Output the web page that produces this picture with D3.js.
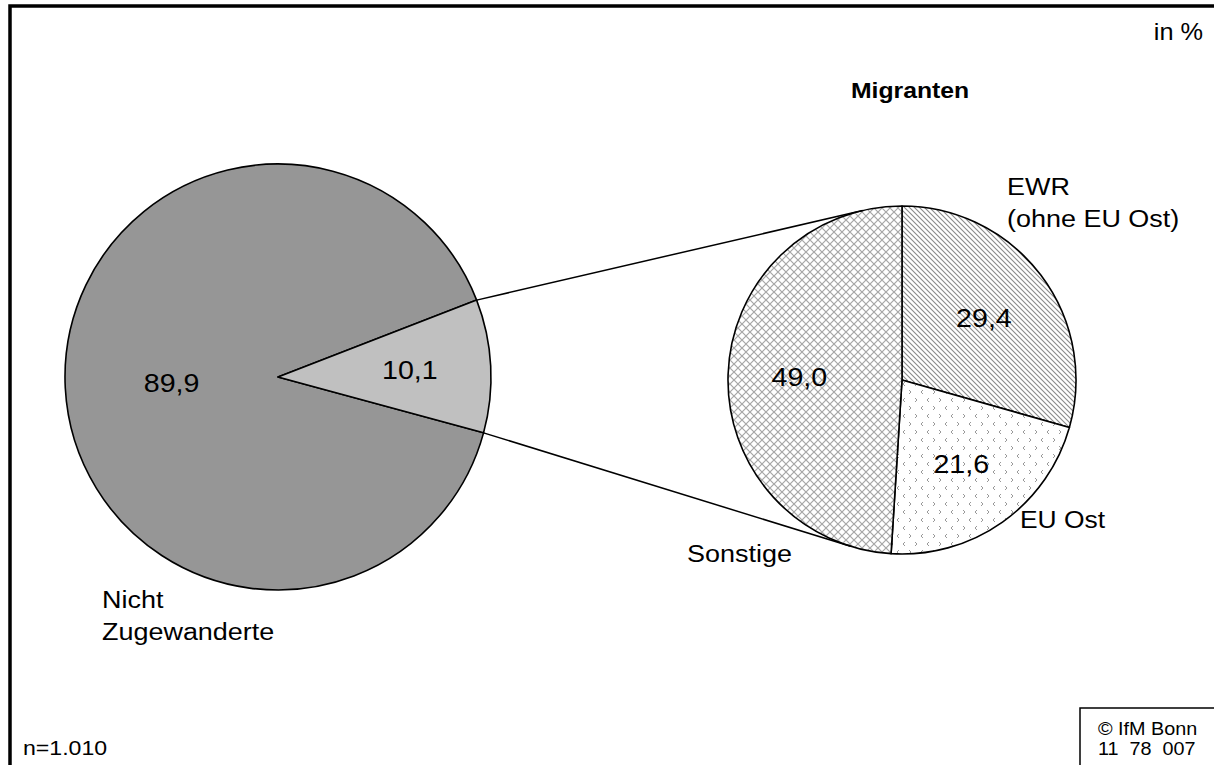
<!DOCTYPE html>
<html>
<head>
<meta charset="utf-8">
<script src="https://cdn.jsdelivr.net/npm/d3@7"></script>
<style>
	html, body { margin: 0; padding: 0; background: #fff; }
	svg text { font-family: "Liberation Sans", Arial, sans-serif; fill: #000; }
</style>
</head>
<body>
<div class="chart"></div>
<script>
// main pie
const mainLabels = ["Nicht Zugewanderte", "Migranten"];
const mainValues = [89.9, 10.1];
const mainColors = ["#969696", "#c0c0c0"];

// detail pie (Migranten)
const subLabels = ["EWR (ohne EU Ost)", "EU Ost", "Sonstige"];
const subValues = [29.4, 21.6, 49.0];

const fmt = (v) => v.toFixed(1).replace(".", ",");

var w = 1214,
	h = 765,
	svg;

var left = { x: 278, y: 377, r: 213 },
	right = { x: 902, y: 380, r: 174 };

var sx = 1.1; // the reference text is slightly wider than Arial

svg = d3.select(".chart").append("svg").attr("width", w).attr("height", h);

var defs = svg.append("defs");

// diagonal lines
defs
	.append("pattern")
	.attr("id", "pat-ewr")
	.attr("patternUnits", "userSpaceOnUse")
	.attr("width", 5)
	.attr("height", 5)
	.call((p) => p.append("rect").attr("width", 5).attr("height", 5).attr("fill", "#fff"))
	.append("path")
	.attr("d", "M-1,-1L6,6M-1,4L1,6M4,-1L6,1")
	.attr("stroke", "#8a8a8a")
	.attr("stroke-width", 1.1);

// little chevrons
var pOst = defs
	.append("pattern")
	.attr("id", "pat-ost")
	.attr("patternUnits", "userSpaceOnUse")
	.attr("width", 24)
	.attr("height", 16);
pOst.append("rect").attr("width", 24).attr("height", 16).attr("fill", "#fff");
pOst
	.append("path")
	.attr("d", "M3,2L1,4L3,6 M13,2L15,4L13,6 M7,10L9,12L7,14 M21,10L19,12L21,14")
	.attr("fill", "none")
	.attr("stroke", "#999")
	.attr("stroke-width", 1);

// cross hatch
defs
	.append("pattern")
	.attr("id", "pat-sonst")
	.attr("patternUnits", "userSpaceOnUse")
	.attr("width", 8)
	.attr("height", 8)
	.call((p) => p.append("rect").attr("width", 8).attr("height", 8).attr("fill", "#fff"))
	.append("path")
	.attr("d", "M-1,-1L9,9M9,-1L-1,9")
	.attr("stroke", "#a6a6a6")
	.attr("stroke-width", 1.2);

const subFills = ["url(#pat-ewr)", "url(#pat-ost)", "url(#pat-sonst)"];

// frame
svg
	.append("rect")
	.attr("x", 10)
	.attr("y", 6)
	.attr("width", 1260)
	.attr("height", 820)
	.attr("fill", "none")
	.attr("stroke", "#000")
	.attr("stroke-width", 3.5);

const deg = Math.PI / 180;

const mainPie = d3
	.pie()
	.sort(null)
	.startAngle(105.2 * deg)
	.endAngle(465.2 * deg);
const subPie = d3.pie().sort(null);

const mainArcs = mainPie(mainValues);
const subArcs = subPie(subValues);

const mainArc = d3.arc().innerRadius(0).outerRadius(left.r);
const subArc = d3.arc().innerRadius(0).outerRadius(right.r);

var gl = svg.append("g").attr("transform", "translate(" + left.x + "," + left.y + ")");
gl
	.selectAll("path")
	.data(mainArcs)
	.enter()
	.append("path")
	.attr("d", mainArc)
	.attr("fill", (d, i) => mainColors[i])
	.attr("stroke", "#000")
	.attr("stroke-width", 1.6)
	.attr("stroke-linejoin", "round");

var gr = svg.append("g").attr("transform", "translate(" + right.x + "," + right.y + ")");
gr
	.selectAll("path")
	.data(subArcs)
	.enter()
	.append("path")
	.attr("d", subArc)
	.attr("fill", (d, i) => subFills[i])
	.attr("stroke", "#000")
	.attr("stroke-width", 1.6)
	.attr("stroke-linejoin", "round");

// connector lines: from the edges of the small slice, tangent to the detail pie
function point(a, c) {
	return [c.x + c.r * Math.sin(a), c.y - c.r * Math.cos(a)];
}
function tangent(p, c, side) {
	var dx = c.x - p[0],
		dy = c.y - p[1],
		d = Math.sqrt(dx * dx + dy * dy),
		base = Math.atan2(dy, dx),
		alpha = Math.asin(c.r / d),
		len = Math.sqrt(d * d - c.r * c.r),
		a = base + side * alpha;
	return [p[0] + len * Math.cos(a), p[1] + len * Math.sin(a)];
}
var small = mainArcs[1];
var pTop = point(small.startAngle, left),
	pBot = point(small.endAngle, left);
[
	[pTop, tangent(pTop, right, -1)],
	[pBot, tangent(pBot, right, 1)]
].forEach((seg) => {
	svg
		.append("line")
		.attr("x1", seg[0][0])
		.attr("y1", seg[0][1])
		.attr("x2", seg[1][0])
		.attr("y2", seg[1][1])
		.attr("stroke", "#000")
		.attr("stroke-width", 1.5);
});

function label(x, y, str, size, anchor, weight) {
	return svg
		.append("text")
		.attr("transform", "translate(" + x + "," + y + ") scale(" + sx + ",1)")
		.attr("text-anchor", anchor || "start")
		.style("font-size", size + "px")
		.style("font-weight", weight || "normal")
		.text(str);
}

// value labels
const mainLabelR = [0.5, 0.62];
mainArcs.forEach((d, i) => {
	var r = left.r * mainLabelR[i],
		a = (d.startAngle + d.endAngle) / 2;
	label(left.x + r * Math.sin(a), left.y - r * Math.cos(a) + 9, fmt(d.data), 26, "middle");
});
subArcs.forEach((d) => {
	var r = right.r * 0.59,
		a = (d.startAngle + d.endAngle) / 2;
	label(right.x + r * Math.sin(a), right.y - r * Math.cos(a) + 9, fmt(d.data), 26, "middle");
});

// category labels
label(102, 608, "Nicht", 24.5);
label(102, 640, "Zugewanderte", 24.5);
label(1007, 195, "EWR", 24.5);
label(1007, 227, "(ohne EU Ost)", 24.5);
label(1020, 528, subLabels[1], 24);
label(687, 562, subLabels[2], 24.5);
label(910, 98, mainLabels[1], 22.5, "middle", "bold");

label(1203, 40, "in %", 23, "end");
label(23, 755, "n=1.010", 21);

// source box
svg
	.append("rect")
	.attr("x", 1080)
	.attr("y", 708)
	.attr("width", 200)
	.attr("height", 100)
	.attr("fill", "#fff")
	.attr("stroke", "#000")
	.attr("stroke-width", 1.5);
label(1098, 735, "\u00a9 IfM Bonn", 18);
label(1098, 755, "11\u00a0\u00a078\u00a0\u00a0007", 18);
</script>
</body>
</html>
